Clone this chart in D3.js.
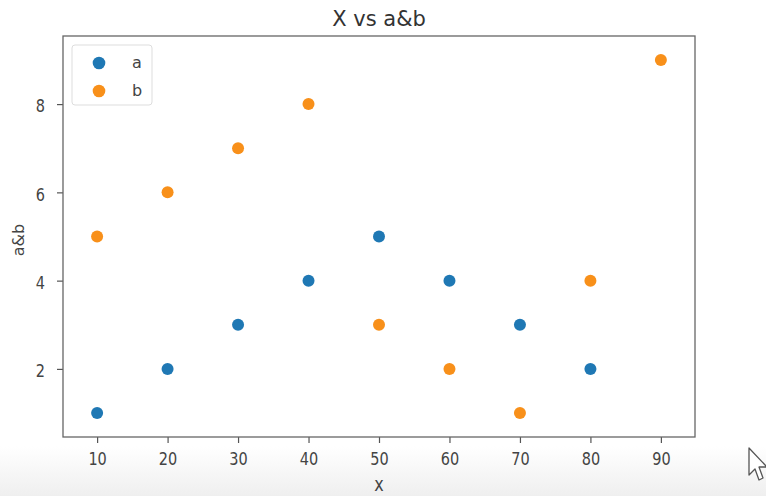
<!DOCTYPE html>
<html><head><meta charset="utf-8">
<script src="https://cdn.jsdelivr.net/npm/d3@7"></script>
<style>body{margin:0;background:#fff}svg{display:block}text{font-family:"DejaVu Sans",sans-serif}</style>
</head><body>
<svg id="c" width="766" height="496"></svg>
<script>
const xA = [10,20,30,40,50,60,70,80];
const valuesA = [1,2,3,4,5,4,3,2];
const xB = [10,20,30,40,50,60,70,80,90];
const valuesB = [5,6,7,8,3,2,1,4,9];
const xTicks = [10,20,30,40,50,60,70,80,90];
const yTicks = [2,4,6,8];
const seriesNames = ["a","b"];
const colors = ["#1f78b4","#f8901a"];

const svg = d3.select("#c");
const W=766,H=496;
const m = {l:63, r:695, t:36, b:437};

const defs = svg.append("defs");
const g1 = defs.append("linearGradient").attr("id","bg").attr("x1",0).attr("y1",0).attr("x2",0).attr("y2",1);
g1.append("stop").attr("offset","0").attr("stop-color","#ffffff");
g1.append("stop").attr("offset","0.9").attr("stop-color","#ffffff");
g1.append("stop").attr("offset","1").attr("stop-color","#efefef");
svg.append("rect").attr("width",W).attr("height",H).attr("fill","url(#bg)");

const x = d3.scaleLinear().domain([5.16,94.84]).range([m.l,m.r]);
const y = d3.scaleLinear().domain([0.457,9.543]).range([m.b,m.t]);

const tc = "#444";
const xAxis = svg.append("g").attr("transform",`translate(0,${m.b})`)
  .call(d3.axisBottom(x).tickValues(xTicks).tickSize(6).tickFormat(d3.format("d")));
const yAxis = svg.append("g").attr("transform",`translate(${m.l},0)`)
  .call(d3.axisLeft(y).tickValues(yTicks).tickSize(6).tickFormat(d3.format("d")));
[xAxis,yAxis].forEach(a=>{
  a.select(".domain").remove();
  a.selectAll(".tick line").attr("stroke","#555").attr("stroke-width",1.2);
  a.selectAll(".tick text").attr("fill",tc).style("font-size","14.5px").style("font-family","DejaVu Sans")
   .attr("x",null).attr("y",null).attr("dy","0.36em");
});
xAxis.selectAll(".tick text").attr("text-anchor","middle").attr("transform","translate(0,22) scale(1,1.2)");
yAxis.selectAll(".tick text").attr("text-anchor","end").attr("transform","translate(-18,1.5) scale(1,1.2)");

svg.append("rect").attr("x",m.l).attr("y",m.t).attr("width",m.r-m.l).attr("height",m.b-m.t)
  .attr("fill","none").attr("stroke","#666").attr("stroke-width",1.3);

const r = 6;
svg.append("g").selectAll("circle").data(xA.map((d,i)=>[d,valuesA[i]])).join("circle")
  .attr("cx",d=>x(d[0])).attr("cy",d=>y(d[1])).attr("r",r).attr("fill",colors[0]);
svg.append("g").selectAll("circle").data(xB.map((d,i)=>[d,valuesB[i]])).join("circle")
  .attr("cx",d=>x(d[0])).attr("cy",d=>y(d[1])).attr("r",r).attr("fill",colors[1]);

// legend
const lg = svg.append("g");
lg.append("rect").attr("x",72).attr("y",45).attr("width",80).attr("height",60).attr("rx",3)
  .attr("fill","#fff").attr("stroke","#ddd").attr("stroke-width",1);
seriesNames.forEach((n,i)=>{
  lg.append("circle").attr("cx",99).attr("cy",63+i*28).attr("r",6.3).attr("fill",colors[i]);
  lg.append("text").attr("x",132).attr("y",63+i*28).attr("dy","0.32em").attr("fill",tc)
    .style("font-size","16px").text(n);
});

svg.append("text").attr("x",(m.l+m.r)/2).attr("y",26).attr("text-anchor","middle")
  .attr("fill","#333").style("font-size","21px").text("X vs a&b");
svg.append("text").attr("text-anchor","middle").attr("dy","0.3em")
  .attr("transform",`translate(${(m.l+m.r)/2},485.5) scale(1,1.2)`)
  .attr("fill",tc).style("font-size","16px").text("x");
svg.append("text").attr("transform",`translate(24,240) rotate(-90)`).attr("text-anchor","middle")
  .attr("fill",tc).style("font-size","16px").text("a&b");

// mouse cursor
svg.append("path")
  .attr("d","M749,448 L749,475 L755,469 L759,480 L763,478 L759,467 L767,467 Z")
  .attr("fill","#fff").attr("stroke","#555").attr("stroke-width",1.3).attr("stroke-linejoin","round");
</script>
</body></html>
